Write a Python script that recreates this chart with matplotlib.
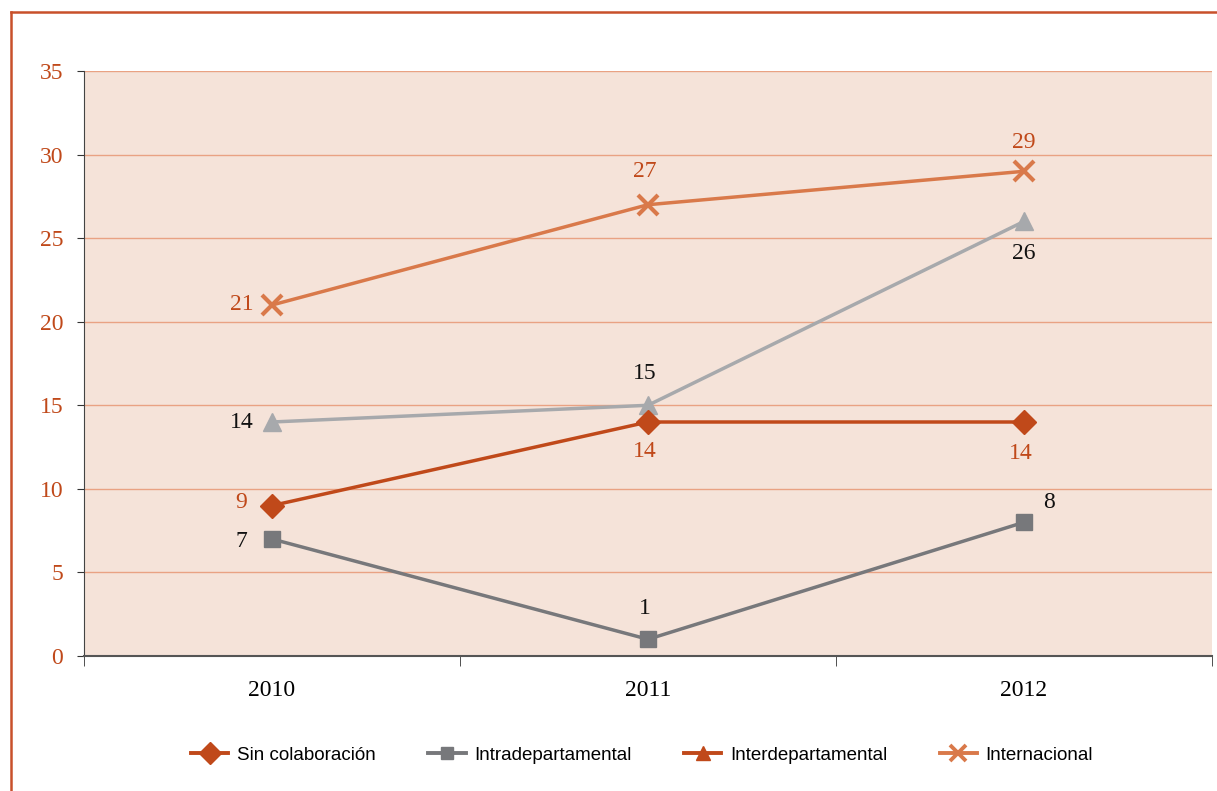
import matplotlib
matplotlib.use("Agg")
from matplotlib import pyplot as plt
from matplotlib.lines import Line2D

years = ["2010", "2011", "2012"]
sin_colab = [9, 14, 14]
intra = [7, 1, 8]
inter = [14, 15, 26]
internacional = [21, 27, 29]
yticks = [0, 5, 10, 15, 20, 25, 30, 35]

ORANGE = "#C0491A"
LIGHT_ORANGE = "#D9794A"
DARK_GRAY = "#77787B"
LIGHT_GRAY = "#A7A9AC"
serif = ["Liberation Serif", "DejaVu Serif"]
sans = ["Liberation Sans Narrow", "Liberation Sans", "DejaVu Sans"]

fig = plt.figure(figsize=(12.17, 7.91), dpi=100)
ax = fig.add_axes([84/1217, 1-656/791, (1212-84)/1217, (656-71)/791])
ax.set_facecolor("#F5E3D9")

x = range(len(years))
ax.plot(x, sin_colab, color=ORANGE, lw=2.5, marker="D", ms=12, zorder=4)
ax.plot(x, intra, color=DARK_GRAY, lw=2.5, marker="s", ms=11.5, zorder=4)
ax.plot(x, inter, color=LIGHT_GRAY, lw=2.5, marker="^", ms=13, zorder=3)
ax.plot(x, internacional, color=LIGHT_ORANGE, lw=2.5, marker="x", ms=15, mew=3, zorder=4)

# data labels: offsets in points for each point
def labels(vals, color, offs):
    for i, (v, (dx, dy)) in enumerate(zip(vals, offs)):
        ax.annotate(str(v), (i, v), xytext=(dx, dy), textcoords="offset points",
                    ha="center", va="center", color=color, fontsize=17, family=serif)

labels(sin_colab, ORANGE, [(-22, 2), (-2, -21), (-2, -23)])
labels(intra, "#111111", [(-22, -2), (-2, 22), (18, 14)])
labels(inter, "#111111", [(-22, 0), (-2, 23), (0, -23)])
labels(internacional, ORANGE, [(-22, 0), (-2, 24), (0, 21)])

ax.set_xlim(-0.5, 2.5)
ax.set_ylim(0, 35)
ax.set_yticks(yticks)
ax.yaxis.grid(True, color="#E9A283", lw=1)
ax.set_axisbelow(True)
ax.set_xticks(list(x))
ax.set_xticklabels(years)
ax.set_xticks([-0.5, 0.5, 1.5, 2.5], minor=True)
ax.tick_params(axis="x", which="major", length=0, pad=17, labelsize=17)
ax.tick_params(axis="x", which="minor", length=7, direction="out", color="#333333")
ax.tick_params(axis="y", length=5, color="#333333", pad=10, labelsize=17, labelcolor=ORANGE)
for lab in ax.get_xticklabels() + ax.get_yticklabels():
    lab.set_family(serif)
for s in ["top", "right"]:
    ax.spines[s].set_visible(False)
ax.spines["left"].set_color("#444444")
ax.spines["bottom"].set_color("#555555")
ax.spines["bottom"].set_linewidth(1.5)

# outer frame
fig.add_artist(Line2D([11/1217, 11/1217], [0, 1-12/791], color="#C8502A", lw=1.8))
fig.add_artist(Line2D([11/1217, 1], [1-12/791, 1-12/791], color="#C8502A", lw=1.8))

handles = [
    Line2D([], [], color=ORANGE, lw=2.8, marker="D", ms=11),
    Line2D([], [], color=DARK_GRAY, lw=2.8, marker="s", ms=9),
    Line2D([], [], color=ORANGE, lw=2.8, marker="^", ms=10),
    Line2D([], [], color=LIGHT_ORANGE, lw=2.8, marker="x", ms=12, mew=2.8),
]
names = ["Sin colaboración", "Intradepartamental", "Interdepartamental", "Internacional"]
fig.legend(handles, names, loc="center", bbox_to_anchor=(642/1217, 1-755/791), ncol=4,
           frameon=False, prop={"family": sans, "size": 13.5}, handlelength=2.0,
           columnspacing=2.8, handletextpad=0.45)

fig.savefig("out.png", dpi=100)
